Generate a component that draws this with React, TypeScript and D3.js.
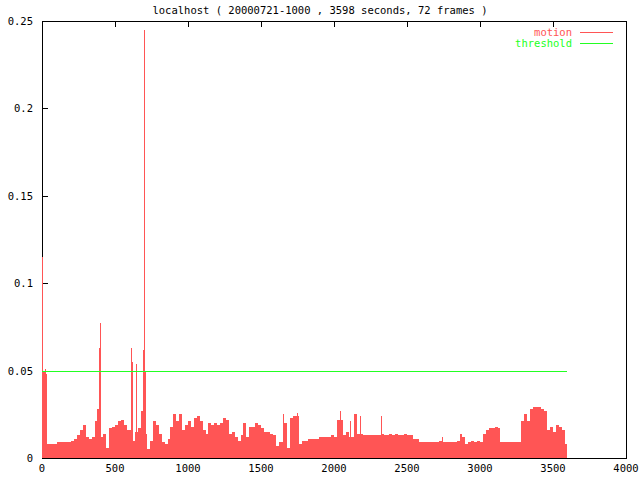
import * as d3 from 'd3'

// motion level sampled every 20 seconds (frame average)
const STEP = 20
const END_SECONDS = 3598
const motion = [
  0.049, 0.008, 0.008, 0.008, 0.008, 0.009, 0.009, 0.009, 0.009, 0.009,
  0.010, 0.011, 0.013, 0.016, 0.019, 0.012, 0.011, 0.012, 0.021, 0.028,
  0.012, 0.014, 0.006, 0.017, 0.018, 0.019, 0.021, 0.022, 0.019, 0.016,
  0.016, 0.010, 0.015, 0.017, 0.027, 0.014, 0.005, 0.010, 0.021, 0.019,
  0.014, 0.009, 0.008, 0.011, 0.018, 0.025, 0.021, 0.025, 0.016, 0.019,
  0.021, 0.018, 0.023, 0.024, 0.021, 0.016, 0.014, 0.020, 0.019, 0.020,
  0.019, 0.020, 0.023, 0.022, 0.014, 0.015, 0.012, 0.010, 0.013, 0.020,
  0.012, 0.018, 0.018, 0.020, 0.019, 0.017, 0.015, 0.015, 0.014, 0.013,
  0.007, 0.009, 0.009, 0.020, 0.006, 0.023, 0.024, 0.024, 0.008, 0.010,
  0.010, 0.011, 0.011, 0.011, 0.011, 0.012, 0.012, 0.012, 0.012, 0.013,
  0.012, 0.022, 0.022, 0.013, 0.015, 0.012, 0.012, 0.025, 0.014, 0.014,
  0.013, 0.013, 0.013, 0.013, 0.013, 0.013, 0.014, 0.013, 0.013, 0.014,
  0.013, 0.014, 0.013, 0.013, 0.014, 0.013, 0.013, 0.011, 0.011, 0.009,
  0.009, 0.009, 0.009, 0.009, 0.009, 0.009, 0.010, 0.009, 0.009, 0.009,
  0.009, 0.009, 0.010, 0.014, 0.012, 0.008, 0.009, 0.010, 0.009, 0.010,
  0.009, 0.014, 0.016, 0.017, 0.017, 0.018, 0.017, 0.009, 0.009, 0.009,
  0.009, 0.009, 0.009, 0.009, 0.021, 0.025, 0.021, 0.028, 0.029, 0.029,
  0.029, 0.028, 0.027, 0.016, 0.018, 0.015, 0.019, 0.018, 0.016, 0.008,
  0.007,
]

// single-frame peaks [seconds, value]
const spikes: [number, number][] = [
  [0, 0.115], [20, 0.051], [25, 0.048], [390, 0.063], [397, 0.077],
  [610, 0.063], [617, 0.055], [644, 0.054], [692, 0.062], [699, 0.245],
  [705, 0.05], [1651, 0.025], [1747, 0.026], [2041, 0.027], [2110, 0.021],
  [2175, 0.024], [2322, 0.024], [2740, 0.012],
]

const threshold = 0.05
const title = 'localhost ( 20000721-1000 , 3598 seconds, 72 frames )'
const xTicks = [0, 500, 1000, 1500, 2000, 2500, 3000, 3500, 4000]
const yTicks = [0, 0.05, 0.1, 0.15, 0.2, 0.25]

const RED = '#ff5555'
const GREEN = '#22ff22'
const FONT = '"DejaVu Sans Mono", monospace'

export default function App() {
  const width = 640
  const height = 480
  const left = 42
  const right = 626
  const top = 21
  const bottom = 458

  const x = d3.scaleLinear([0, 4000], [left, right])
  const y = d3.scaleLinear([0, 0.25], [bottom, top])

  const pts: [number, number][] = motion.map((v, i) => [Math.min(i * STEP, END_SECONDS), v])
  pts.push([END_SECONDS, motion[motion.length - 1]])

  const area = d3
    .area<[number, number]>()
    .x((d) => x(d[0]))
    .y0(y(0))
    .y1((d) => y(d[1]))
    .curve(d3.curveStepAfter)

  const px = (v: number) => Math.round(x(v)) + 0.5
  const py = (v: number) => Math.round(y(v)) + 0.5

  return (
    <svg
      width={width}
      height={height}
      style={{ position: 'absolute', left: 0, top: 0, background: '#fff' }}
      fontFamily={FONT}
      fontSize={10.5}
    >
      <rect width={width} height={height} fill="#fff" />
      <text x={320} y={14} textAnchor="middle" fill="#000">
        {title}
      </text>

      {/* frame and ticks */}
      <g stroke="#000" strokeWidth={1} shapeRendering="crispEdges" fill="none">
        <rect x={left + 0.5} y={top + 0.5} width={right - left} height={bottom - top} />
        {xTicks.map((t) => (
          <g key={t}>
            <line x1={px(t)} x2={px(t)} y1={top} y2={top + 6} />
            <line x1={px(t)} x2={px(t)} y1={bottom} y2={bottom - 6} />
          </g>
        ))}
        {yTicks.map((t) => (
          <line key={t} x1={left} x2={left + 6} y1={py(t)} y2={py(t)} />
        ))}
      </g>

      <g fill="#000">
        {xTicks.map((t) => (
          <text key={t} x={x(t)} y={472} textAnchor="middle">
            {String(t)}
          </text>
        ))}
        {yTicks.map((t) => (
          <text key={t} x={33} y={y(t) + 4} textAnchor="end">
            {String(t)}
          </text>
        ))}
      </g>

      {/* motion */}
      <path d={area(pts) ?? ''} fill={RED} shapeRendering="crispEdges" />
      <g stroke={RED} strokeWidth={1} shapeRendering="crispEdges">
        {spikes.map(([t, v], i) => (
          <line key={i} x1={px(t)} x2={px(t)} y1={y(0)} y2={y(v)} />
        ))}
      </g>

      {/* threshold */}
      <line
        x1={x(0)}
        x2={x(END_SECONDS)}
        y1={py(threshold)}
        y2={py(threshold)}
        stroke={GREEN}
        strokeWidth={1}
        shapeRendering="crispEdges"
      />

      {/* legend */}
      <text x={572} y={35.5} textAnchor="end" fill={RED}>
        motion
      </text>
      <line x1={580} x2={613} y1={32.5} y2={32.5} stroke={RED} shapeRendering="crispEdges" />
      <text x={572} y={46.5} textAnchor="end" fill={GREEN}>
        threshold
      </text>
      <line x1={580} x2={613} y1={43.5} y2={43.5} stroke={GREEN} shapeRendering="crispEdges" />
    </svg>
  )
}
